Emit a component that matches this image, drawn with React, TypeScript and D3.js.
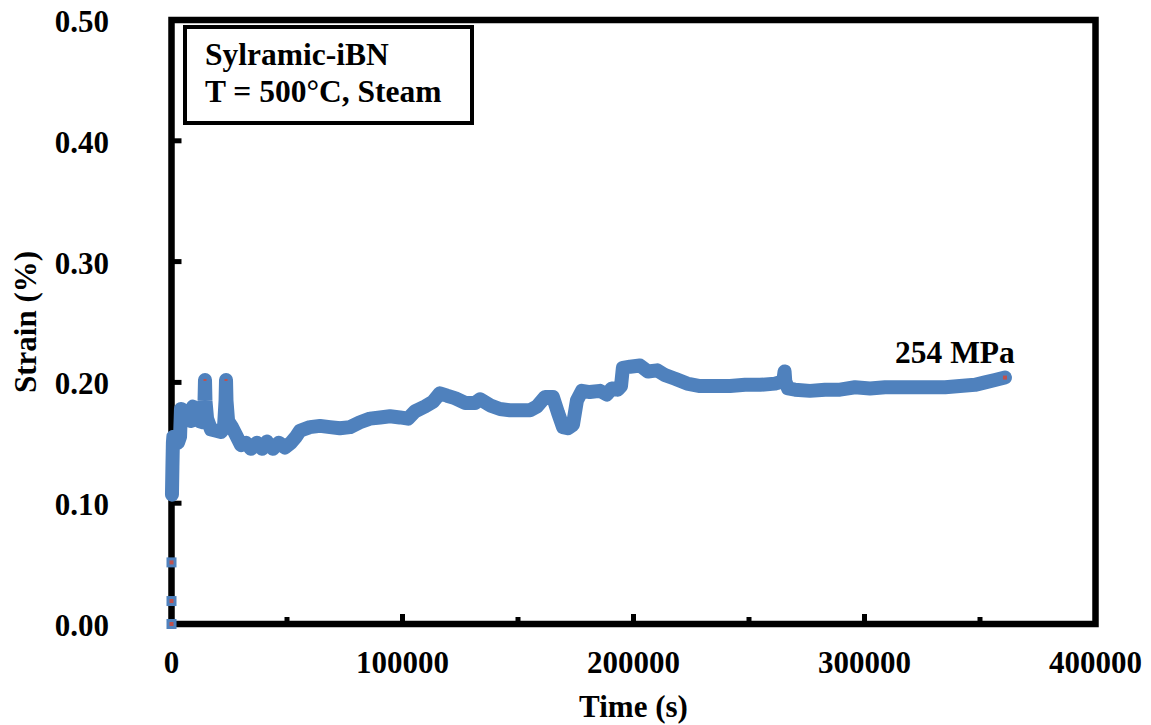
import React from "react";
import * as d3 from "d3";

// Time (s)
const timeS: number[] = [
  200, 400, 600, 800, 1500, 2800, 3700, 4100, 5000, 6700, 8400, 9300, 10600, 11900, 13600,
  14300, 14500, 14700, 15400, 17100, 19300, 21400, 22700, 23400, 23600, 23800, 24500, 26200,
  28300, 30100, 32300, 34400, 37000, 39200, 41300, 43900, 46500, 49100, 51700, 53900, 55600,
  59900, 64300, 68600, 72900, 77300, 81600, 85900, 90300, 94600, 98900, 102400, 105400,
  109700, 113200, 116200, 119300, 122700, 127100, 131400, 133600, 137900, 142200, 146500,
  150900, 155200, 158200, 161700, 165100, 167300, 169500, 171600, 173800, 175500, 177700,
  181100, 185500, 188500, 190600, 193200, 194600, 195400, 198500, 202800, 206300, 210200,
  213700, 218000, 223200, 228800, 235300, 241800, 248300, 254800, 261300, 264800, 265400,
  265700, 266900, 269900, 276400, 282900, 289400, 295900, 302400, 308900, 315400, 321900,
  328400, 334900, 341300, 347800, 352200, 356500, 360800,
];
// Strain (%)
const strainPct: number[] = [
  0.107, 0.130, 0.150, 0.155, 0.155, 0.150, 0.155, 0.178, 0.168, 0.170, 0.168, 0.180, 0.176,
  0.168, 0.167, 0.185, 0.202, 0.185, 0.170, 0.161, 0.160, 0.159, 0.162, 0.185, 0.202, 0.185,
  0.168, 0.163, 0.155, 0.148, 0.150, 0.145, 0.150, 0.145, 0.151, 0.145, 0.150, 0.146, 0.150,
  0.155, 0.160, 0.163, 0.164, 0.163, 0.162, 0.163, 0.167, 0.170, 0.171, 0.172, 0.171, 0.170,
  0.176, 0.180, 0.184, 0.191, 0.189, 0.187, 0.183, 0.183, 0.186, 0.181, 0.178, 0.177, 0.177,
  0.177, 0.180, 0.188, 0.188, 0.175, 0.163, 0.162, 0.165, 0.185, 0.193, 0.192, 0.193, 0.190,
  0.195, 0.194, 0.197, 0.212, 0.213, 0.214, 0.209, 0.210, 0.206, 0.203, 0.199, 0.197, 0.197,
  0.197, 0.198, 0.198, 0.199, 0.201, 0.209, 0.201, 0.195, 0.194, 0.193, 0.194, 0.194, 0.196,
  0.195, 0.196, 0.196, 0.196, 0.196, 0.196, 0.197, 0.198, 0.200, 0.202, 0.204,
];
// isolated loading points at t = 0
const startTime: number[] = [0, 0, 0];
const startStrain: number[] = [0.0, 0.019, 0.051];

const yTicks: number[] = [0, 0.1, 0.2, 0.3, 0.4, 0.5];
const xTicksMajor: number[] = [0, 100000, 200000, 300000, 400000];
const xTicksMinor: number[] = [50000, 150000, 250000, 350000];

const boxLines: string[] = ["Sylramic-iBN", "T = 500°C, Steam"];
const stressLabel = "254 MPa";

const W = 1151;
const H = 725;
const L = 171.5, R = 1095.5, T = 20, B = 624;
const FONT = "'Liberation Serif', 'Times New Roman', serif";
const BLUE = "#4F81BD";
const RED = "#C0504D";

export default function App() {
  const x = d3.scaleLinear().domain([0, 400000]).range([L, R]);
  const y = d3.scaleLinear().domain([0, 0.5]).range([B, T]);
  const pts: [number, number][] = timeS.map((t, i) => [t, strainPct[i]]);
  const line = d3
    .line<[number, number]>()
    .x((d) => x(d[0]))
    .y((d) => y(d[1]));
  const lastIdx = pts.length - 1;
  const spikeIdx = pts
    .map((d, i) => i)
    .filter((i) => strainPct[i] >= 0.2 && timeS[i] < 30000);

  return (
    <svg
      width={W}
      height={H}
      style={{ position: "absolute", left: 0, top: 0, background: "#fff" }}
      fontFamily={FONT}
      fontWeight="bold"
    >
      <rect x={0} y={0} width={W} height={H} fill="#fff" />
      {/* frame */}
      <rect x={L} y={T} width={R - L} height={B - T} fill="none" stroke="#000" strokeWidth={6.5} />
      {/* y ticks */}
      {yTicks.map((v) => (
        <g key={"y" + v}>
          {v > 0 && v < 0.5 && (
            <line x1={L} x2={L + 10} y1={y(v)} y2={y(v)} stroke="#000" strokeWidth={5} />
          )}
          <text x={109} y={y(v) + 12} textAnchor="end" fontSize={31}>
            {v.toFixed(2)}
          </text>
        </g>
      ))}
      {/* x ticks */}
      {xTicksMajor.map((v) => (
        <g key={"x" + v}>
          {v > 0 && v < 400000 && (
            <line x1={x(v)} x2={x(v)} y1={B} y2={B - 10} stroke="#000" strokeWidth={5} />
          )}
          <text x={x(v)} y={673} textAnchor="middle" fontSize={31}>
            {v}
          </text>
        </g>
      ))}
      {xTicksMinor.map((v) => (
        <line key={"m" + v} x1={x(v)} x2={x(v)} y1={B} y2={B - 7} stroke="#000" strokeWidth={5} />
      ))}
      {/* data */}
      <path
        d={line(pts) || ""}
        fill="none"
        stroke={BLUE}
        strokeWidth={14}
        strokeLinejoin="round"
        strokeLinecap="round"
      />
      {startTime.map((t, i) => (
        <g key={"s" + i}>
          <rect x={x(t) - 5} y={y(startStrain[i]) - 5} width={10} height={10} fill={BLUE} />
          <rect x={x(t) - 2} y={y(startStrain[i]) - 2} width={4} height={4} fill={RED} />
        </g>
      ))}
      {spikeIdx.map((i) => (
        <rect key={"k" + i} x={x(timeS[i]) - 1.5} y={y(strainPct[i]) - 1} width={3} height={2} fill={RED} />
      ))}
      <rect x={x(timeS[lastIdx]) - 2} y={y(strainPct[lastIdx]) - 2} width={4} height={4} fill={RED} />

      {/* axis titles */}
      <text x={(L + R) / 2} y={717} textAnchor="middle" fontSize={31}>
        Time (s)
      </text>
      <text
        transform={`translate(36, ${(T + B) / 2}) rotate(-90)`}
        textAnchor="middle"
        fontSize={31}
      >
        Strain (%)
      </text>
      {/* annotation box */}
      <rect x={185} y={27} width={287} height={96} fill="#fff" stroke="#000" strokeWidth={4} />
      {boxLines.map((s, i) => (
        <text key={s} x={205} y={65 + i * 37} fontSize={31.5}>
          {s}
        </text>
      ))}
      <text x={895} y={363} fontSize={31.5}>
        {stressLabel}
      </text>
    </svg>
  );
}
